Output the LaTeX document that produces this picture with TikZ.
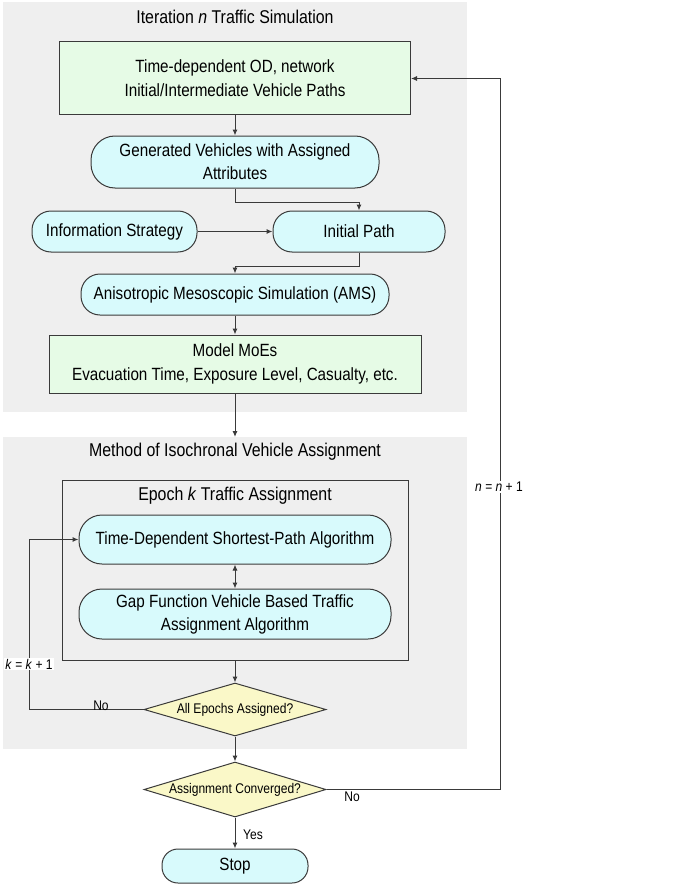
\documentclass[tikz,border=0pt]{standalone}
\usepackage{fontspec}
\setmainfont{Liberation Sans}[FakeStretch=0.86]
\usetikzlibrary{shapes.geometric,arrows.meta}
\definecolor{panel}{HTML}{EFEFEF}
\definecolor{gfill}{HTML}{E6FBE6}
\definecolor{cfill}{HTML}{D8FAFC}
\definecolor{yfill}{HTML}{FAF8C8}
\definecolor{edge}{HTML}{3A3A3A}
\begin{document}
\begin{tikzpicture}[x=1pt,y=-1pt,
  txt/.style={font=\fontsize{17.7}{24}\selectfont},
  box/.style={draw=edge, line width=1pt, fill=gfill, inner sep=0pt, align=center, txt},
  pill/.style={draw=edge, line width=1pt, fill=cfill, inner sep=0pt, align=center, rounded corners=#1, txt},
  dia/.style={diamond, shape aspect=3.4, draw=edge, line width=1pt, fill=yfill, inner sep=0pt, align=center, font=\fontsize{14}{16}\selectfont},
  lbl/.style={inner sep=1pt, font=\fontsize{14}{16}\selectfont},
  arr/.style={draw=edge, line width=1pt, -{Latex[length=6pt,width=5pt]}},
  ln/.style={draw=edge, line width=1pt}
]
\useasboundingbox (0,0) rectangle (676,888);
% panels
\fill[panel] (3,2) rectangle (467,412);
\fill[panel] (3,437) rectangle (467,749);

\node[font=\fontsize{18.5}{22}\selectfont] (t1) at (235,17) {Iteration \textit{n} Traffic Simulation};
\node[box, minimum width=351pt, minimum height=73pt] (od) at (235,78.5) {Time-dependent OD, network\\Initial/Intermediate Vehicle Paths};
\node[pill=24pt, minimum width=288pt, minimum height=52pt, font=\fontsize{17.7}{23}\selectfont] (gen) at (235,162) {Generated Vehicles with Assigned\\Attributes};
\node[pill=19pt, minimum width=165pt, minimum height=41pt] (info) at (114.5,231.5) {Information Strategy};
\node[pill=19pt, minimum width=172pt, minimum height=41pt] (init) at (359,231.5) {Initial Path};
\node[pill=19pt, minimum width=308pt, minimum height=41pt] (ams) at (235,294.5) {Anisotropic Mesoscopic Simulation (AMS)};
\node[box, minimum width=372pt, minimum height=58pt] (moe) at (235,364) {Model MoEs\\Evacuation Time, Exposure Level, Casualty, etc.};
\coordinate (p2) at (235,437);

\node[font=\fontsize{18.5}{22}\selectfont] (t2) at (235,452) {Method of Isochronal Vehicle Assignment};
\node[draw=edge, line width=1pt, minimum width=346pt, minimum height=180pt, inner sep=0pt] (epoch) at (235,570) {};
\node[font=\fontsize{18.5}{22}\selectfont] (t3) at (235,496) {Epoch \textit{k} Traffic Assignment};
\node[pill=23pt, minimum width=312pt, minimum height=49pt] (tdsp) at (235,539.5) {Time-Dependent Shortest-Path Algorithm};
\node[pill=23pt, minimum width=312pt, minimum height=50pt, font=\fontsize{17.7}{23}\selectfont] (gap) at (235,614) {Gap Function Vehicle Based Traffic\\Assignment Algorithm};
\node[dia, minimum width=182pt, minimum height=53pt] (d1) at (235,709.5) {All Epochs Assigned?};
\node[dia, minimum width=182pt, minimum height=55pt] (d2) at (235,789.5) {Assignment Converged?};
\node[pill=16pt, minimum width=146pt, minimum height=34pt] (stop) at (235,866) {Stop};

% connectors
\draw[arr] (od.south) -- (gen.north);
\draw[arr] (gen.south) -- ++(0,14) -| (init.north);
\draw[arr] (info.east) -- (init.west);
\draw[arr] (init.south) -- ++(0,14) -| (ams.north);
\draw[arr] (ams.south) -- (moe.north);
\draw[arr] (moe.south) -- (p2);
\draw[draw=edge, line width=1pt, {Latex[length=6pt,width=5pt]}-{Latex[length=6pt,width=5pt]}] (tdsp.south) -- (gap.north);
\draw[arr] (epoch.south) -- (d1.north);
\draw[arr] (d1.west) -- (29,709.5) |- (tdsp.west);
\draw[arr] (d1.south) -- (d2.north);
\draw[arr] (d2.east) -- (500,789.5) |- (od.east);
\draw[arr] (d2.south) -- (stop.north);

% labels
\node[lbl] (no1) at (101,706) {No};
\node[lbl, fill=white] (kk) at (29,664) {\textit{k} = \textit{k} + 1};
\node[lbl, fill=white] (nn) at (499,487) {\textit{n} = \textit{n} + 1};
\node[lbl] (no2) at (352,797) {No};
\node[lbl] (yes) at (253,835) {Yes};
\end{tikzpicture}
\end{document}
